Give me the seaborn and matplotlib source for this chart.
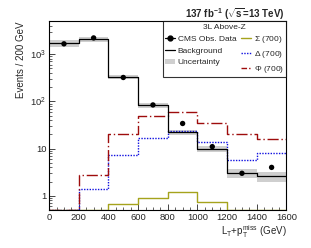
import matplotlib
matplotlib.use("Agg")
import matplotlib.pyplot as plt
import seaborn as sns
from matplotlib.lines import Line2D
from matplotlib.patches import Patch
from matplotlib.ticker import FixedLocator, MultipleLocator, LogLocator, NullFormatter

sns.set_style("ticks")
plt.rcParams['font.family'] = ['Liberation Sans', 'DejaVu Sans']
plt.rcParams['mathtext.fontset'] = 'custom'
plt.rcParams['mathtext.rm'] = 'Liberation Sans'
plt.rcParams['mathtext.it'] = 'Liberation Sans'
plt.rcParams['mathtext.bf'] = 'Liberation Sans:bold'

# bins of L_T + p_T^miss (GeV)
edges = [0, 200, 400, 600, 800, 1000, 1200, 1400, 1600]
centers = [100, 300, 500, 700, 900, 1100, 1300, 1500]

# events per bin
obs = [1650, 2200, 320, 84, 34, 11, 3.0, 4.0]
bkg = [1700, 2100, 330, 82, 22, 10, 3.0, 2.6]
bkg_unc = [0.15, 0.12, 0.12, 0.12, 0.12, 0.15, 0.22, 0.25]   # relative
sigma700 = [0.5, 0.5, 0.67, 0.92, 1.2, 0.74, 0.5, 0.5]
delta700 = [0.5, 1.4, 7.2, 17, 24, 14, 5.8, 7.9]
phi700 = [0.5, 2.7, 20, 48, 60, 35, 20, 16]

red = "#9e0c0c"
blue = "#1010e0"
olive = "#a5a31c"
band = "#cfcfcf"

fig = plt.figure(figsize=(3.11, 2.48), dpi=100)
ax = fig.add_axes([0.158, 0.153, 0.763, 0.762])

def stepy(v):
    return list(v) + [v[-1]]

lo = [b * (1 - u) for b, u in zip(bkg, bkg_unc)]
hi = [b * (1 + u) for b, u in zip(bkg, bkg_unc)]
ax.fill_between(edges, stepy(lo), stepy(hi), step="post", color=band, lw=0, zorder=1)

sns.lineplot(x=edges, y=stepy(sigma700), drawstyle="steps-post", color=olive, lw=1.0, ax=ax, zorder=2)
sns.lineplot(x=edges, y=stepy(delta700), drawstyle="steps-post", color=blue, lw=1.0,
             linestyle=(0, (1, 1)), ax=ax, zorder=2)
sns.lineplot(x=edges, y=stepy(phi700), drawstyle="steps-post", color=red, lw=1.0,
             linestyle=(0, (8, 2, 1, 2)), ax=ax, zorder=2)
sns.lineplot(x=edges, y=stepy(bkg), drawstyle="steps-post", color="black", lw=0.9, ax=ax, zorder=3)
sns.scatterplot(x=centers, y=obs, color="black", s=15, edgecolor="none", ax=ax, zorder=4)

ax.set_yscale("log")
ax.set_xlim(0, 1600)
ax.set_ylim(0.5, 5000)

ax.xaxis.set_major_locator(MultipleLocator(200))
ax.xaxis.set_minor_locator(MultipleLocator(50))
ax.yaxis.set_major_locator(FixedLocator([1, 10, 100, 1000]))
ax.yaxis.set_minor_locator(LogLocator(base=10, subs=range(2, 10)))
ax.yaxis.set_minor_formatter(NullFormatter())
ax.set_yticklabels(["1", "10", r"$10^{2}$", r"$10^{3}$"])
ax.tick_params(which="major", direction="in", length=4, width=0.6, labelsize=6.8, pad=2)
ax.tick_params(which="minor", direction="in", length=2, width=0.5)
for s in ax.spines.values():
    s.set_linewidth(0.8)
    s.set_color("black")

ax.set_xlabel(r"L$_{\rm T}$+p$_{\rm T}^{\rm miss}$ (GeV)", fontsize=7, loc="right", labelpad=1)
ax.set_ylabel("Events / 200 GeV", fontsize=7, loc="top", labelpad=3)

fig.text(0.915, 0.945, r"137 fb$^{\mathbf{-1}}$ ($\sqrt{\mathbf{s}}$=13 TeV)", ha="right", va="center",
         fontsize=7, fontweight="bold")

handles = [
    Line2D([], [], color="black", marker="o", markersize=3.5, lw=0.9),
    Line2D([], [], color="black", lw=0.9),
    Patch(facecolor=band, edgecolor="none"),
    Line2D([], [], color=olive, lw=1.0),
    Line2D([], [], color=blue, lw=1.0, linestyle=(0, (1, 1))),
    Line2D([], [], color=red, lw=1.0, linestyle=(0, (4, 1.5, 1, 1.5))),
]
labels = ["CMS Obs. Data", "Background", "Uncertainty",
          r"$\Sigma$ (700)", r"$\Delta$ (700)", r"$\Phi$ (700)"]
leg = ax.legend(handles, labels, ncol=2, loc="upper right", bbox_to_anchor=(1.0, 1.0),
                borderaxespad=0, fontsize=6.0, title="3L Above-Z", title_fontsize=6.0,
                frameon=True, fancybox=False, handlelength=1.2, handletextpad=0.3,
                columnspacing=0.6, labelspacing=0.45, borderpad=0.3)
leg.get_frame().set_edgecolor("black")
leg.get_frame().set_linewidth(0.8)

fig.savefig("out.png", dpi=100)
